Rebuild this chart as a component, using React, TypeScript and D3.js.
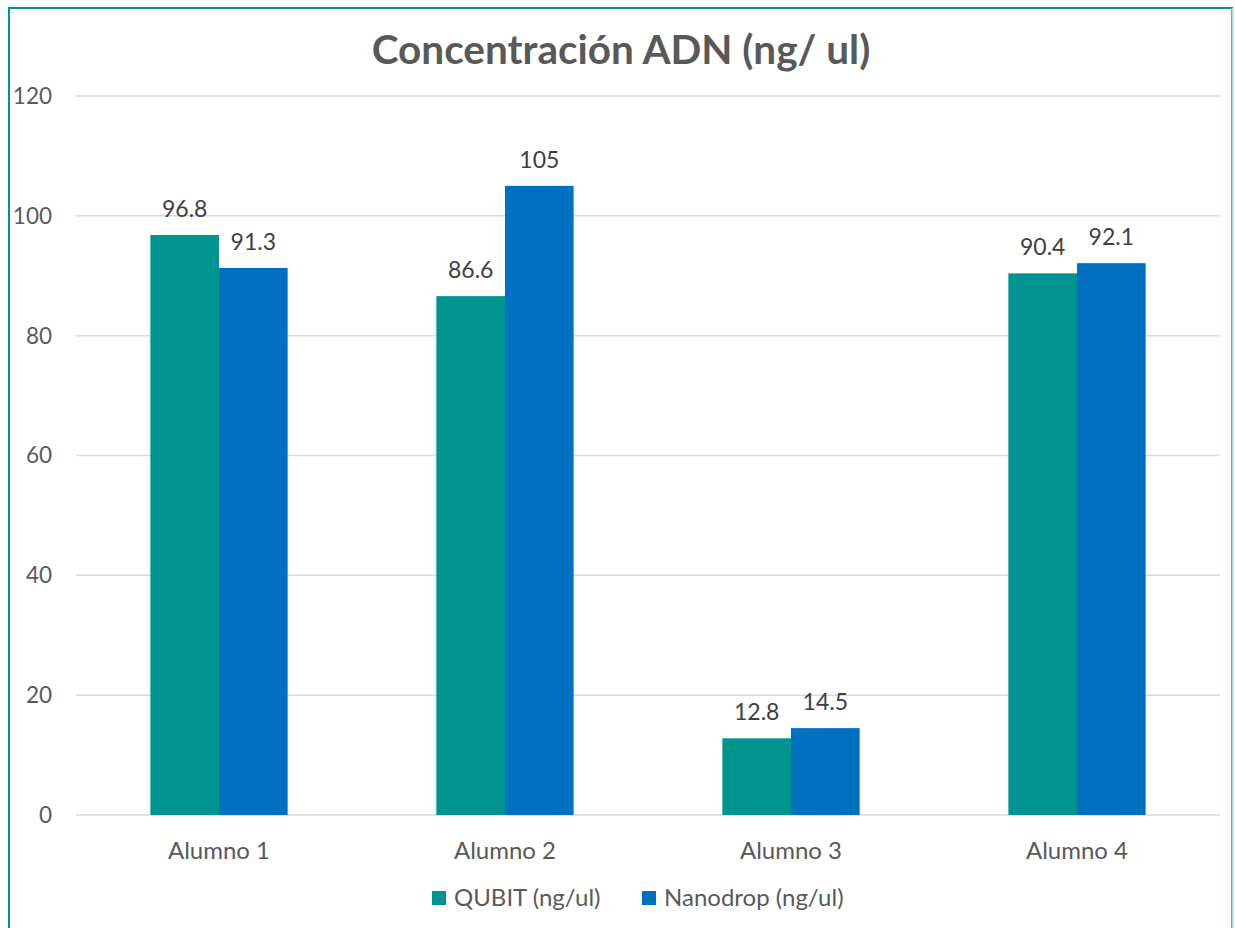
import React from "react"
import * as d3 from "d3"

const categories = ["Alumno 1", "Alumno 2", "Alumno 3", "Alumno 4"]
const seriesNames = ["QUBIT (ng/ul)", "Nanodrop (ng/ul)"]
const qubit = [96.8, 86.6, 12.8, 90.4]
const nanodrop = [91.3, 105, 14.5, 92.1]
const yTicks = [0, 20, 40, 60, 80, 100, 120]

const colors = ["#009490", "#0070C0"]
const textColor = "#595959"
const font = "Lato, 'Open Sans', sans-serif"

const App: React.FC = () => {
	const width = 1235
	const height = 928
	// plot area, in page coordinates
	const left = 76
	const right = 1220
	const top = 96
	const bottom = 815

	const x = d3.scaleBand().domain(categories).range([left, right]).paddingInner(0).paddingOuter(0)
	const y = d3.scaleLinear().domain([0, 120]).range([bottom, top])
	const groupW = x.bandwidth() * 0.48
	const inner = d3.scaleBand().domain(seriesNames).range([0, groupW])

	const series = [qubit, nanodrop]

	return (
		<svg
			width={width}
			height={height}
			style={{ position: "absolute", left: 0, top: 0, background: "#fff" }}
			fontFamily={font}>
			{/* frame */}
			<rect x={9} y={8} width={1223} height={940} fill="none" stroke="#009490" strokeWidth={2} />
			<line x1={1232.5} x2={1232.5} y1={8} y2={928} stroke="#a8dcdc" strokeWidth={2} />

			<text x={621} y={50} dy="0.35em" textAnchor="middle" fontSize={40.5} fontWeight="bold" fill={textColor}>
				Concentración ADN (ng/ ul)
			</text>

			{/* grid */}
			{yTicks.map((t) => (
				<g key={t}>
					<line x1={left} x2={right} y1={y(t)} y2={y(t)} stroke="#d9d9d9" strokeWidth={1.5} />
					<text x={52} y={y(t)} dy="0.35em" textAnchor="end" fontSize={22.5} fill={textColor}>
						{t}
					</text>
				</g>
			))}

			{/* bars */}
			{categories.map((c, ci) => {
				const gx = (x(c) as number) + (x.bandwidth() - groupW) / 2
				return (
					<g key={c}>
						{series.map((s, si) => {
							const bx = gx + (inner(seriesNames[si]) as number)
							const v = s[ci]
							return (
								<g key={si}>
									<rect
										x={bx}
										y={y(v)}
										width={inner.bandwidth()}
										height={y(0) - y(v)}
										fill={colors[si]}
									/>
									<text
										x={bx + inner.bandwidth() / 2}
										y={y(v) - 26}
										dy="0.35em"
										textAnchor="middle"
										fontSize={23}
										fill="#404040">
										{v}
									</text>
								</g>
							)
						})}
						<text
							x={(x(c) as number) + x.bandwidth() / 2}
							y={851}
							dy="0.35em"
							textAnchor="middle"
							fontSize={24}
							fill={textColor}>
							{c}
						</text>
					</g>
				)
			})}

			{/* legend */}
			{seriesNames.map((n, i) => {
				const lx = [432, 642][i]
				return (
					<g key={n}>
						<rect x={lx} y={891} width={14} height={14} fill={colors[i]} />
						<text x={lx + 22} y={898} dy="0.35em" fontSize={24} fill={textColor}>
							{n}
						</text>
					</g>
				)
			})}
		</svg>
	)
}

export default App
